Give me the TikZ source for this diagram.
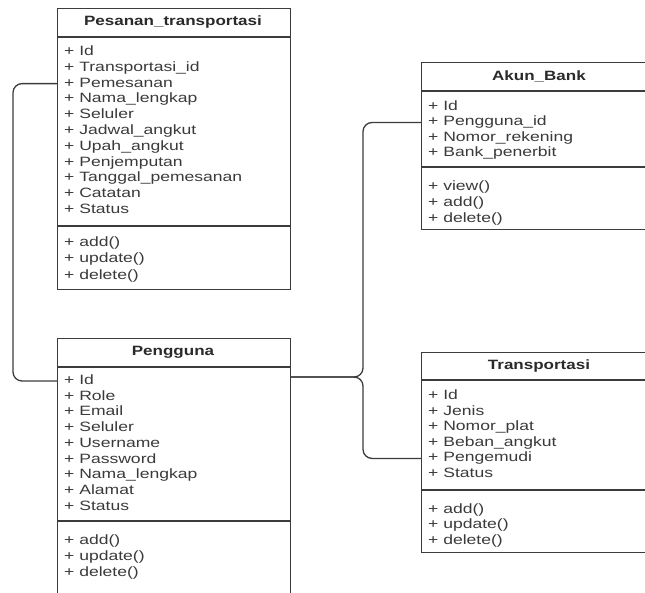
\documentclass[tikz,border=0pt]{standalone}
\usepackage{fontspec}
\setmainfont[FakeStretch=1.3, BoldFeatures={FakeStretch=1.26}]{Liberation Sans}
\begin{document}
\begin{tikzpicture}[x=1pt,y=-1pt,
  box/.style={draw=linegray, line width=1.2pt, fill=white, inner sep=0pt, anchor=north west},
  sep/.style={draw=linegray, line width=1.2pt},
  title/.style={font=\fontsize{13.5}{15}\selectfont\bfseries, text=textgray, inner sep=0pt},
  attr/.style={font=\fontsize{13.5}{15}\selectfont, text=attrgray, inner sep=0pt, anchor=west, text height=9.7pt, text depth=2.8pt},
  conn/.style={draw=linegray, line width=1.3pt, rounded corners=9pt}]
\definecolor{linegray}{HTML}{3C3C3C}
\definecolor{textgray}{HTML}{2A2A2A}
\definecolor{attrgray}{HTML}{3A3A3A}
\clip (0,0) rectangle (645,592);
\fill[white] (0,0) rectangle (645,592);

% ---------------- Pesanan_transportasi
\node[box, minimum width=233pt, minimum height=281pt] (pes) at (57,8) {};
\draw[sep] (57,37) -- (290,37);
\draw[sep] (57,226) -- (290,226);
\node[title] (pest) at (173,22) {Pesanan\_transportasi};
\foreach \t [count=\i] in {+ Id, + Transportasi\_id, + Pemesanan, + Nama\_lengkap, + Seluler, + Jadwal\_angkut, + Upah\_angkut, + Penjemputan, + Tanggal\_pemesanan, + Catatan, + Status}
  \node[attr] (pa\i) at (64,{52+15.8*(\i-1)}) {\t};
\foreach \t [count=\i] in {+ add(), + update(), + delete()}
  \node[attr] (pm\i) at (64,{243+16.3*(\i-1)}) {\t};

% ---------------- Pengguna
\node[box, minimum width=233pt, minimum height=270pt] (usr) at (57,338) {};
\draw[sep] (57,367) -- (290,367);
\draw[sep] (57,521) -- (290,521);
\node[title] (usrt) at (173,352.5) {Pengguna};
\foreach \t [count=\i] in {+ Id, + Role, + Email, + Seluler, + Username, + Password, + Nama\_lengkap, + Alamat, + Status}
  \node[attr] (ua\i) at (64,{381+15.75*(\i-1)}) {\t};
\foreach \t [count=\i] in {+ add(), + update(), + delete()}
  \node[attr] (um\i) at (64,{541+16*(\i-1)}) {\t};

% ---------------- Akun_Bank
\node[box, minimum width=236pt, minimum height=167pt] (akun) at (421,62) {};
\draw[sep] (421,91) -- (657,91);
\draw[sep] (421,167) -- (657,167);
\node[title] (akunt) at (539,76.5) {Akun\_Bank};
\foreach \t [count=\i] in {+ Id, + Pengguna\_id, + Nomor\_rekening, + Bank\_penerbit}
  \node[attr] (ka\i) at (428,{107+15.5*(\i-1)}) {\t};
\foreach \t [count=\i] in {+ view(), + add(), + delete()}
  \node[attr] (km\i) at (428,{187+15.8*(\i-1)}) {\t};

% ---------------- Transportasi
\node[box, minimum width=236pt, minimum height=200pt] (tra) at (421,352) {};
\draw[sep] (421,380) -- (657,380);
\draw[sep] (421,490) -- (657,490);
\node[title] (trat) at (539,366) {Transportasi};
\foreach \t [count=\i] in {+ Id, + Jenis, + Nomor\_plat, + Beban\_angkut, + Pengemudi, + Status}
  \node[attr] (ta\i) at (428,{396+15.6*(\i-1)}) {\t};
\foreach \t [count=\i] in {+ add(), + update(), + delete()}
  \node[attr] (tm\i) at (428,{510+15.5*(\i-1)}) {\t};

% ---------------- connectors
\coordinate (lx) at (13,0);
\coordinate (j) at (363,377);
\draw[conn] (pa3.west -| pes.west) -| (lx |- ua1.west) -- (ua1.west -| usr.west);
\draw[conn] (usr.east |- j) -- (j) |- (ka2.west -| akun.west);
\draw[conn] (usr.east |- j) -- (j) |- (ta5.west -| tra.west);
\end{tikzpicture}
\end{document}
